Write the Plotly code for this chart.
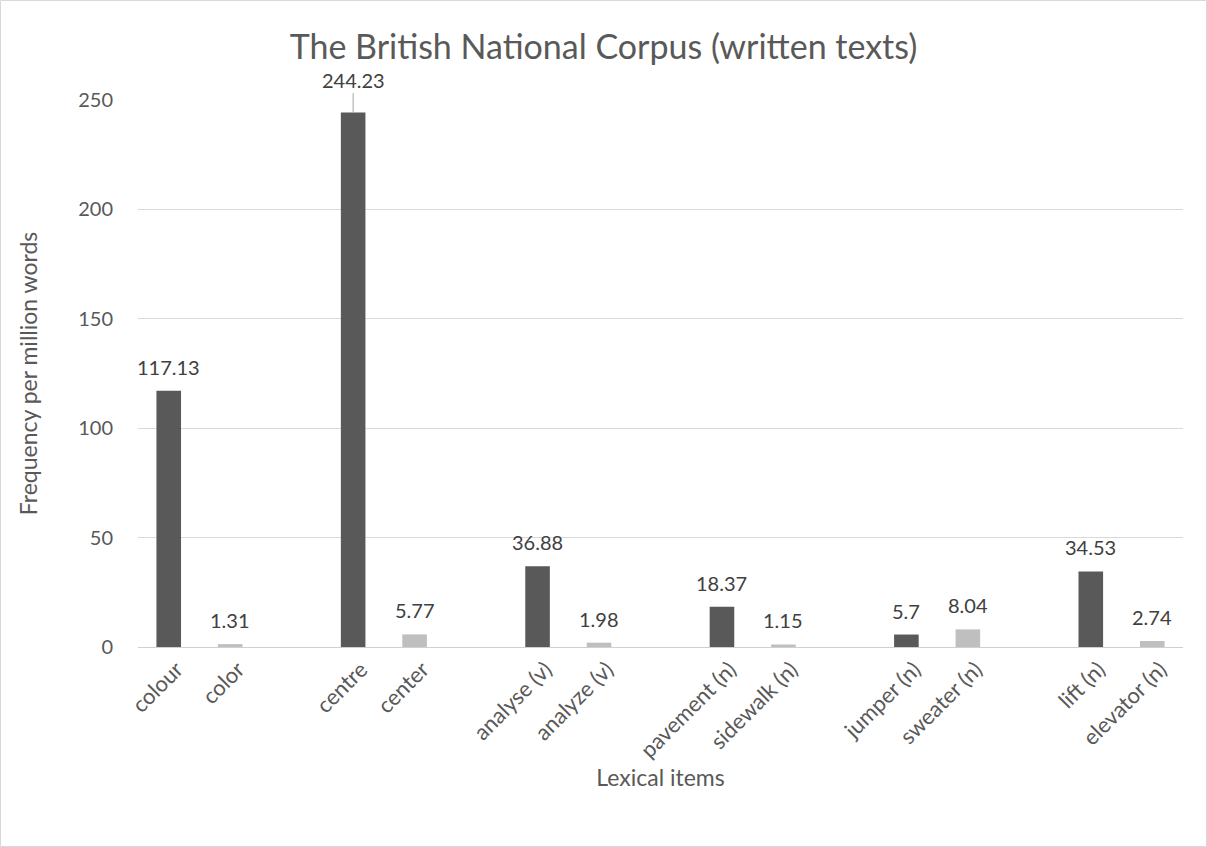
import plotly.graph_objects as go

# Data
slots = ["colour", "color", "", "centre", "center", "", "analyse (v)", "analyze (v)", "",
         "pavement (n)", "sidewalk (n)", "", "jumper (n)", "sweater (n)", "", "lift (n)", "elevator (n)"]
british_items = ["colour", "centre", "analyse (v)", "pavement (n)", "jumper (n)", "lift (n)"]
british_values = [117.13, 244.23, 36.88, 18.37, 5.7, 34.53]
american_items = ["color", "center", "analyze (v)", "sidewalk (n)", "sweater (n)", "elevator (n)"]
american_values = [1.31, 5.77, 1.98, 1.15, 8.04, 2.74]
y_ticks = [0, 50, 100, 150, 200, 250]

FONT = "Lato, Open Sans, sans-serif"
W, H = 1207, 847
ML, MR, MT, MB = 138, 24, 100, 200
PW, PH = W - ML - MR, H - MT - MB
LBL = dict(size=20, color="#404040", family=FONT)

pos = {name: i for i, name in enumerate(slots) if name}

def fmt(v):
    return f"{v:g}"

fig = go.Figure()
fig.add_trace(go.Bar(
    x=[pos[n] for n in british_items], y=british_values, width=0.4,
    marker=dict(color="#595959", line=dict(width=0)),
    name="British", showlegend=False, hoverinfo="x+y"))
fig.add_trace(go.Bar(
    x=[pos[n] for n in american_items], y=american_values, width=0.4,
    marker=dict(color="#bfbfbf", line=dict(width=0)),
    name="American", showlegend=False, hoverinfo="x+y"))

max_v = max(british_values)
for items, vals in ((british_items, british_values), (american_items, american_values)):
    for n, v in zip(items, vals):
        if v == max_v:
            fig.add_annotation(x=pos[n], y=v, text=fmt(v),
                               showarrow=True, arrowhead=0, arrowwidth=1, arrowcolor="#a6a6a6",
                               ax=0, ay=-33, standoff=0, font=LBL)
        else:
            fig.add_annotation(x=pos[n], y=v, text=fmt(v), showarrow=False,
                               yanchor="bottom", yshift=10, font=LBL)

fig.add_shape(type="rect", xref="paper", yref="paper",
              x0=-(ML - 0.5) / PW, x1=1 + (MR - 0.5) / PW,
              y0=-(MB - 0.5) / PH, y1=1 + (MT - 0.5) / PH,
              line=dict(color="#d9d9d9", width=1), fillcolor="rgba(0,0,0,0)", layer="below")

fig.update_layout(
    width=W, height=H,
    margin=dict(l=ML, r=MR, t=MT, b=MB, pad=0),
    paper_bgcolor="white", plot_bgcolor="white",
    title=dict(text="The British National Corpus (written texts)", x=0.5, xanchor="center",
               y=1 - 47 / H, yanchor="middle",
               font=dict(size=34, color="#595959", family=FONT)),
    font=dict(family=FONT, color="#595959"),
    xaxis=dict(
        range=[-0.5, len(slots) - 0.5],
        tickmode="array",
        tickvals=[i for i, n in enumerate(slots) if n],
        ticktext=[n for n in slots if n],
        tickangle=-45, ticks="", showgrid=False, zeroline=False,
        showline=True, linecolor="#d0d0d0", linewidth=1,
        tickfont=dict(size=22, color="#595959", family=FONT), ticklabelstandoff=0,
        ticklabelshift=8,
        title=dict(text="Lexical items", font=dict(size=23, color="#595959", family=FONT), standoff=4),
        fixedrange=True,
    ),
    yaxis=dict(
        range=[0, 250], tickvals=y_ticks, ticks="",
        showgrid=True, gridcolor="#d9d9d9", gridwidth=1, zeroline=False,
        tickfont=dict(size=20, color="#595959", family=FONT), ticklabelstandoff=24,
        title=dict(text="Frequency per million words", font=dict(size=23, color="#595959", family=FONT), standoff=34),
        fixedrange=True,
    ),
)

fig.write_html("out.html")
